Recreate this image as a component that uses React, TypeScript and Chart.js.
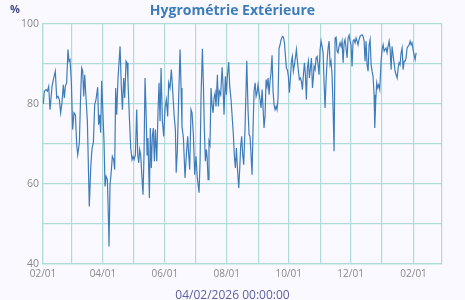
import { useEffect, useRef } from 'react';
import { Chart, registerables } from 'chart.js';

Chart.register(...registerables);

const TITLE = 'Hygrométrie Extérieure';
const UNIT = '%';
const FOOTER = '04/02/2026 00:00:00';

// Day offsets from 01 Feb 2025 of each month start shown on the x axis
const monthStarts = [0, 28, 59, 89, 120, 150, 181, 212, 242, 273, 303, 334, 365, 393];
const monthLabels = ['02/01', '', '04/01', '', '06/01', '', '08/01', '', '10/01', '', '12/01', '', '02/01', ''];
const yLabelled = [40, 60, 80, 100];

// Sample positions (days since 01 Feb 2025) and outdoor humidity (%)
const dayOffsets = [
  0.3, 1.3, 3.0, 4.3, 5.6, 6.9, 8.9, 10.2, 12.1, 13.5, 14.8, 16.1, 17.4, 18.7, 20.0, 21.0, 22.0, 23.3, 24.6, 25.6,
  26.6, 27.9, 29.2, 30.5, 31.9, 33.2, 34.2, 35.8, 37.1, 38.1, 39.1, 40.1, 41.1, 42.0, 43.7, 45.6, 47.0, 48.3, 49.6, 50.9,
  52.2, 53.9, 54.8, 55.8, 56.8, 57.8, 58.8, 60.1, 61.1, 62.1, 63.4, 64.7,
  65.0, 66.0, 67.0, 68.3, 69.6, 70.6, 71.6, 72.6, 73.9, 75.9, 77.2, 78.2, 79.5, 80.5, 81.8, 82.8, 83.7, 85.1, 86.4, 87.7,
  88.7, 89.7, 91.0, 92.3, 93.3, 94.3, 95.2, 96.2, 97.5, 98.5, 99.5, 100.5, 101.5, 102.5, 103.4, 104.8, 105.7, 106.7, 107.7, 108.7,
  109.7, 110.7, 112.0, 113.3, 114.3, 115.3, 116.3, 117.6, 118.9, 120.2, 121.5, 122.8, 123.8, 125.1, 126.4, 127.8, 129.1, 130.4, 131.2,
  132.3, 133.7, 135.0, 136.0, 136.9, 138.3, 139.9, 141.2, 142.5, 143.5, 144.5, 145.8, 146.8, 148.1, 149.4, 150.7, 152.0, 153.7, 154.7, 155.7,
  157.0, 158.0, 158.9, 159.9, 160.9, 161.6, 162.6, 163.5, 164.5, 165.5, 166.5, 167.5, 168.5, 169.5, 170.4, 171.8, 172.7, 173.7, 175.0, 176.4,
  177.3, 178.3, 179.6, 180.6, 181.6, 182.9, 183.9, 185.2, 186.2, 187.5, 188.5, 189.5, 190.5, 191.5, 192.8, 193.8, 194.7, 195.7, 196.7, 197.7,
  199.0,
  200.7, 202.0, 203.0, 203.9, 204.9, 205.9, 206.9, 207.9, 208.9, 209.9, 210.8, 211.8, 212.8, 213.8, 214.8, 215.8, 216.7, 217.7, 218.7, 219.7,
  220.7, 221.7, 222.7, 223.6, 224.6, 225.6, 226.6, 227.6, 228.6, 229.6, 230.5, 231.5, 232.5, 233.5, 234.5, 235.8, 236.8, 237.8, 238.7, 239.7,
  240.7, 241.7, 242.7, 243.7, 244.7, 245.6, 246.6, 247.6, 248.6, 249.6, 250.6, 251.6, 252.5, 253.5, 254.5, 255.5, 256.5, 257.5, 258.5, 259.4,
  260.4, 261.4, 262.4, 263.4, 264.4, 265.4, 266.3,
  267.0, 268.0, 269.0, 270.0, 270.9, 271.9, 272.9, 273.9, 274.9, 275.9, 276.8, 277.8, 278.8, 279.8, 280.8, 281.8, 282.8, 283.7, 284.7, 285.7,
  286.7, 287.7, 288.7, 289.7, 290.6, 291.6, 292.6, 293.6, 294.6, 295.6, 296.6, 297.5, 298.5, 299.5, 300.5, 301.5, 302.5, 303.4, 304.4, 305.4,
  306.4, 307.4, 308.4, 309.4, 310.3, 311.3, 312.3, 313.3, 314.3, 315.3, 316.3, 317.2, 318.2, 319.2, 320.2, 321.2, 322.2, 323.2, 324.1, 325.1,
  326.1, 326.8, 327.7, 328.7, 329.7, 330.7, 331.7,
  333.0, 334.0, 335.0, 336.0, 336.9, 337.9, 338.9, 339.9, 340.9, 341.9, 342.9, 343.8, 344.8, 345.8, 346.8, 347.8, 348.8, 349.8, 350.7, 351.7,
  352.7, 353.7, 354.7, 355.7, 356.7, 357.6, 358.6, 359.6, 360.6, 361.6, 362.6, 363.5, 364.5, 365.5, 366.5, 367.5,
];

const humidity = [
  80.0, 83.2, 83.6, 83.2, 84.4, 78.6, 84.4, 86.1, 88.2, 81.5, 81.9, 81.1, 77.8, 80.3, 84.8, 81.5, 84.4, 85.3, 93.6, 90.7,
  91.1, 85.7, 73.6, 77.8, 77.3, 69.8, 67.3, 70.3, 82.3, 89.0, 88.2, 81.9, 87.3, 83.2, 75.7, 54.4, 64.0, 69.0, 70.3, 79.8,
  81.1, 84.2, 74.8, 77.3, 72.8, 85.8, 79.0, 70.7, 59.4, 61.9, 61.1, 49.0,
  44.4, 59.8, 62.3, 66.9, 66.1, 63.6, 84.0, 77.3, 86.5, 94.4, 84.0, 78.6, 86.5, 81.5, 90.7, 90.3, 85.7, 76.5, 69.0, 66.1,
  66.9, 66.1, 67.3, 78.6, 67.3, 65.3, 68.6, 67.3, 61.5, 57.3, 67.3, 86.5, 78.2, 67.3, 71.5, 56.5, 74.0, 64.0, 71.9, 74.0,
  65.7, 73.6, 65.7, 78.2, 85.3, 75.7, 89.0, 75.7, 71.9, 79.0, 81.1, 76.9, 85.3, 84.0, 88.6, 83.2, 77.3, 73.6, 62.8,
  68.2, 82.3, 93.6, 84.0, 74.4, 71.5, 61.5, 67.3, 71.9, 67.3, 63.6, 78.6, 77.8, 72.3, 62.3, 66.9, 61.5, 57.8, 65.7, 82.3,
  93.8, 84.8, 74.0, 65.7, 68.6, 66.9, 61.1, 70.7, 69.8, 84.0, 79.8, 77.8, 81.5, 82.8, 79.4, 87.3, 79.4, 83.2, 82.3, 89.2,
  84.8, 77.3, 86.9, 82.3, 86.9, 90.5, 84.4, 81.1, 77.3, 72.3, 66.9, 64.0, 69.0, 64.0, 59.0, 64.0, 69.4, 71.9, 67.3, 64.8,
  74.0,
  90.8, 78.2, 72.3, 71.9, 67.3, 62.3, 74.0, 83.2, 85.3, 81.9, 82.8, 84.8, 82.8, 81.1, 79.0, 83.6, 79.4, 74.0, 76.9, 86.1,
  84.4, 86.5, 82.3, 85.7, 87.8, 92.2, 83.2, 79.8, 78.6, 79.4, 78.6, 81.5, 94.0, 94.8, 96.1, 96.9, 96.7, 95.3, 92.3, 89.0,
  88.6, 86.9, 82.8, 86.5, 90.7, 91.9, 88.2, 89.8, 91.5, 93.6, 90.7, 88.2, 86.1, 86.5, 85.7, 83.6, 87.3, 90.3, 87.3, 81.1,
  89.0, 90.7, 86.5, 89.0, 91.5, 84.0, 86.5,
  89.4, 88.6, 91.5, 91.9, 89.8, 87.3, 93.6, 95.7, 94.4, 92.8, 85.7, 79.0, 85.7, 90.7, 94.0, 95.7, 89.8, 90.7, 87.3, 79.0,
  68.2, 96.5, 96.7, 93.2, 92.8, 94.4, 95.3, 94.4, 95.7, 90.3, 95.3, 96.1, 94.0, 91.5, 96.5, 97.2, 95.7, 94.8, 89.4, 95.7,
  96.1, 95.3, 96.5, 95.7, 94.8, 96.1, 96.9, 97.2, 97.3, 96.9, 95.7, 90.7, 95.7, 89.8, 88.2, 94.8, 96.1, 89.8, 88.2, 86.9,
  82.3, 74.0, 80.7, 85.3, 84.0, 84.8, 83.6,
  90.7, 93.6, 94.8, 93.2, 93.6, 94.0, 92.8, 94.4, 95.7, 93.6, 88.6, 94.4, 92.3, 90.3, 88.2, 87.3, 86.5, 89.0, 90.3, 89.8,
  92.8, 94.0, 88.6, 90.7, 90.7, 91.5, 94.0, 94.4, 94.8, 95.7, 94.8, 95.3, 93.6, 92.3, 91.1, 92.8,
];

const BG = '#faf9ff';
const GRID = '#b0dbdb';
const LINE = '#3f7dba';
const TICK = '#8a8a8a';
const FONT = '"Open Sans", "Noto Sans", sans-serif';

export default function App() {
  const ref = useRef<HTMLCanvasElement>(null);

  useEffect(() => {
    document.body.style.margin = '0';
    document.body.style.background = BG;
    const canvas = ref.current!;

    const decor = {
      id: 'decor',
      beforeDraw(chart: any) {
        const { ctx, width, height } = chart;
        ctx.save();
        ctx.fillStyle = BG;
        ctx.fillRect(0, 0, width, height);
        ctx.restore();
      },
      afterDraw(chart: any) {
        const { ctx, width } = chart;
        const cx = width / 2;
        ctx.save();
        ctx.textBaseline = 'alphabetic';
        ctx.textAlign = 'center';
        ctx.fillStyle = '#3d7cba';
        ctx.font = `bold 14px ${FONT}`;
        ctx.fillText(TITLE, cx, 15);
        ctx.textAlign = 'left';
        ctx.fillStyle = '#4a4a8c';
        ctx.font = `bold 11px ${FONT}`;
        ctx.fillText(UNIT, 10, 13);
        ctx.textAlign = 'center';
        ctx.fillStyle = '#5e5ea6';
        ctx.font = `12px ${FONT}`;
        ctx.fillText(FOOTER, cx, 298.5);
        ctx.restore();
      },
    };

    const chart = new Chart(canvas, {
      type: 'line',
      data: {
        datasets: [
          {
            data: dayOffsets.map((d, i) => ({ x: d, y: humidity[i] })),
            borderColor: LINE,
            borderWidth: 1.2,
            pointRadius: 0,
            tension: 0,
            fill: false,
          },
        ],
      },
      options: {
        animation: false,
        responsive: false,
        layout: { padding: { top: 24, right: 23, left: 0, bottom: 0 } },
        plugins: {
          legend: { display: false },
          tooltip: { enabled: false },
          title: { display: false },
        },
        scales: {
          x: {
            type: 'linear',
            min: monthStarts[0],
            max: monthStarts[monthStarts.length - 1],
            afterBuildTicks: (scale: any) => {
              scale.ticks = monthStarts.map((v) => ({ value: v }));
            },
            afterFit: (scale: any) => {
              scale.height = 36;
            },
            ticks: {
              autoSkip: false,
              maxRotation: 0,
              padding: 4,
              color: TICK,
              font: { family: FONT, size: 10 },
              callback: (_v: any, i: number) => monthLabels[i],
            },
            grid: { color: GRID, lineWidth: 1.2, drawTicks: false },
            border: { color: GRID, width: 1.2 },
          },
          y: {
            min: 40,
            max: 100,
            afterFit: (scale: any) => {
              scale.width = 43;
            },
            ticks: {
              stepSize: 10,
              padding: 4,
              color: TICK,
              font: { family: FONT, size: 10.5 },
              callback: (v: any) => (yLabelled.includes(Number(v)) ? String(v) : ''),
            },
            grid: { color: GRID, lineWidth: 1.2, drawTicks: false },
            border: { color: GRID, width: 1.2 },
          },
        },
      },
      plugins: [decor],
    });

    return () => chart.destroy();
  }, []);

  return (
    <div style={{ width: 465, height: 300, background: BG }}>
      <canvas ref={ref} width={465} height={300} style={{ display: 'block' }} />
    </div>
  );
}
